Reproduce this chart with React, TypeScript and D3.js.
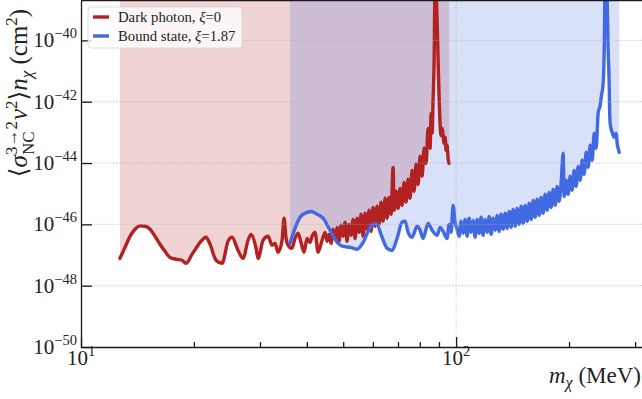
import { useEffect, useRef } from 'react';
import * as d3 from 'd3';

// values (mass in MeV, cross-section as log10 of cm^2)
const redMass = [
  12.7, 13.1, 13.51, 13.93, 14.37, 14.81, 15.28, 15.75, 16.24, 16.75, 17.27, 18.03, 18.59, 19.05,
  19.77, 20.26, 20.89, 21.54, 22.08, 22.91, 23.77, 24.66, 25.27, 26.22, 27.04, 27.88, 28.4, 29.29,
  29.65, 30.57, 31.53, 32.31, 32.91, 33.52, 34.36, 34.78, 35.21, 35.65, 36.53, 37.2, 37.9, 38.6,
  39.32, 40.05, 40.79, 41.3, 42.07, 42.85, 43.92,
  44.74, 45.29, 45.85, 46.42, 46.99, 47.56, 48.15, 48.75, 49.35, 49.97, 50.58, 51.21, 51.84, 52.48,
  53.13, 53.79, 54.45, 55.12, 55.81, 56.49, 57.19, 57.9, 58.61, 59.33, 60.07, 60.81, 61.55, 62.32,
  63.1, 63.88, 64.69, 65.46, 66.27, 67.08, 67.92, 68.34, 69.18, 70.02, 70.9, 71.78, 72.66, 73.56,
  74.47, 75.39, 76.32, 77.27, 78.22, 79.19, 80.17, 81.16, 82.16, 83.18, 84.2, 85.24, 85.79, 86.3,
  86.85, 87.38, 87.9, 88.99, 89.54, 90.1, 90.65, 91.2, 91.76, 92.9, 93.47, 94.03, 94.62, 95.2, 95.79,
];
const redSigmaExp = [
  -47.11, -46.75, -46.39, -46.16, -46.05, -46.06, -46.16, -46.39, -46.65, -46.88, -47.08, -47.14, -47.17, -47.27,
  -46.98, -46.78, -46.55, -46.42, -46.65, -47.17, -47.27, -46.55, -46.42, -46.85, -47.11, -46.52, -46.33, -46.78,
  -47.11, -46.52, -46.39, -46.68, -46.62, -46.91, -46.52, -45.8, -46.46, -46.68, -46.78, -46.46, -46.29, -46.59,
  -46.91, -46.46, -46.59, -46.39, -46.26, -46.91, -46.52,
  -46.26, -46.55, -46.33, -46.62, -46.16, -46.49, -46.1, -46.55, -46.03, -46.39, -45.93, -46.55, -46.0, -46.36,
  -45.84, -46.46, -45.8, -46.26, -45.67, -46.39, -45.64, -46.16, -45.54, -46.23, -45.45, -46.06, -45.41, -46.0,
  -45.28, -45.9, -45.15, -45.8, -45.12, -45.67, -44.14, -45.54, -44.92, -45.48, -44.83, -45.38, -44.63, -45.28,
  -44.53, -45.15, -44.24, -44.92, -44.04, -44.7, -43.78, -44.43, -43.52, -44.01, -42.87, -43.52, -42.38, -43.03,
  -41.86, -40.65, -37.96, -39.35, -40.65, -41.86, -42.77, -43.1, -42.87, -43.36, -43.16, -43.59, -43.42, -43.85, -44.01,
];

const blueMass = [
  36.08, 37.2, 38.37, 39.56, 41.05, 42.59, 44.19, 46.13, 48.45, 49.97, 52.16, 54.45, 56.49, 58.97,
  61.18, 63.48, 65.46, 67.5, 69.59, 71.78, 73.11, 74.47, 76.32, 78.7, 80.17, 81.66, 84.2, 86.3,
  88.99, 90.65, 92.33,
  94.62, 95.79, 96.98, 98.17, 99.39, 100.6, 101.9, 103.1, 104.4, 105.7, 107.0, 108.3, 109.7, 111.0,
  112.4, 113.8, 115.2, 116.6, 118.0, 119.5, 121.0, 122.5, 124.0, 125.5, 127.1, 128.6, 130.2, 131.8,
  133.5, 135.1, 136.8, 138.5, 140.2, 141.9, 143.7, 145.4, 147.2, 149.1, 150.9, 152.8, 154.7, 156.6,
  158.5, 160.5, 162.4, 164.4, 166.5, 168.5, 170.6, 172.7, 174.9, 177.0, 179.2, 181.4, 183.7, 185.9,
  188.2, 190.5, 192.9, 194.1, 196.5, 198.9, 201.4, 203.9, 206.4, 208.9, 211.5, 214.1, 216.8, 219.4,
  222.2, 224.9, 227.7, 230.5, 233.4, 236.2, 239.2, 242.1, 243.6, 246.6, 248.2, 249.7, 252.7, 254.3,
  255.9, 256.6, 257.4, 260.6, 263.8, 267.1, 268.7, 270.4, 272.1,
];
const blueSigmaExp = [
  -46.62, -46.13, -45.77, -45.64, -45.58, -45.67, -45.8, -46.19, -46.62, -46.72, -46.75, -46.81, -46.59, -46.1,
  -45.97, -46.42, -46.78, -46.85, -46.46, -45.93, -45.9, -46.26, -46.42, -46.06, -46.19, -46.46, -45.97, -46.19,
  -46.36, -46.1, -46.23,
  -46.46, -46.0, -46.26, -45.38, -45.93, -46.16, -46.39, -45.9, -46.29, -45.84, -46.39, -45.8, -46.26, -45.87,
  -46.42, -45.84, -46.29, -45.77, -46.36, -45.84, -46.26, -45.74, -46.33, -45.8, -46.19, -45.71, -46.23, -45.67,
  -46.16, -45.64, -46.13, -45.58, -46.1, -45.51, -46.06, -45.48, -46.0, -45.41, -45.97, -45.38, -45.9, -45.31,
  -45.84, -45.22, -45.77, -45.18, -45.71, -45.12, -45.64, -45.02, -45.54, -44.96, -45.45, -44.86, -45.38, -44.76,
  -45.25, -44.66, -43.68, -45.09, -44.56, -45.02, -44.43, -44.89, -44.24, -44.76, -44.11, -44.56, -43.91, -44.37,
  -43.65, -44.14, -43.42, -43.91, -43.03, -43.52, -42.35, -42.12, -41.86, -41.4, -40.33, -37.96, -38.7, -40.33,
  -41.4, -42.28, -42.71, -43.0, -43.16, -43.03, -43.36, -43.52, -43.65,
];

const yTickExps = [-40, -42, -44, -46, -48, -50];
const xMajorTicks = [10, 100];
const xMinorTicks = [20, 30, 40, 50, 60, 70, 80, 90, 200, 300];
const legendNames = ['Dark photon, ', 'Bound state, '];
const legendXi = ['0', '1.87'];

const RED = '#b22222';
const BLUE = '#4169e1';
const SERIF = '"Liberation Serif", "DejaVu Serif", serif';

export default function App() {
  const svgRef = useRef<SVGSVGElement>(null);

  useEffect(() => {
    if (!svgRef.current) return;
    const svg = d3.select(svgRef.current);
    svg.selectAll('*').remove();

    const left = 81;
    const right = 642;
    const top = 0.5;
    const bottom = 347;

    const x = d3.scaleLog().domain([10, 313]).range([left, right]);
    const y = d3.scaleLog().domain([1e-50, 2e-39]).range([bottom, top]);

    svg
      .append('defs')
      .append('clipPath')
      .attr('id', 'plot-clip')
      .append('rect')
      .attr('x', left)
      .attr('y', top)
      .attr('width', right - left)
      .attr('height', bottom - top);

    const red = redMass.map((m, i) => ({ m, s: Math.pow(10, redSigmaExp[i]) }));
    const blue = blueMass.map((m, i) => ({ m, s: Math.pow(10, blueSigmaExp[i]) }));

    const plot = svg.append('g').attr('clip-path', 'url(#plot-clip)');

    const area = d3
      .area<{ m: number; s: number }>()
      .curve(d3.curveMonotoneX)
      .x((d) => x(d.m))
      .y0(top - 5)
      .y1((d) => y(d.s));

    plot.append('path').datum(red).attr('d', area).attr('fill', RED).attr('fill-opacity', 0.2);
    plot.append('path').datum(blue).attr('d', area).attr('fill', BLUE).attr('fill-opacity', 0.2);

    // dotted grid at the major ticks
    const grid = svg.append('g').attr('stroke', '#b0b0b0').attr('stroke-width', 0.8).attr('stroke-dasharray', '1.2,2');
    yTickExps
      .filter((e) => e !== -50)
      .forEach((e) => {
        grid.append('line').attr('x1', left).attr('x2', right).attr('y1', y(Math.pow(10, e))).attr('y2', y(Math.pow(10, e)));
      });
    grid.append('line').attr('x1', x(100)).attr('x2', x(100)).attr('y1', top).attr('y2', bottom);

    const line = d3
      .line<{ m: number; s: number }>()
      .curve(d3.curveMonotoneX)
      .x((d) => x(d.m))
      .y((d) => y(d.s));

    [
      { data: red, color: RED },
      { data: blue, color: BLUE },
    ].forEach((c) => {
      plot
        .append('path')
        .datum(c.data)
        .attr('d', line)
        .attr('fill', 'none')
        .attr('stroke', c.color)
        .attr('stroke-width', 3.4)
        .attr('stroke-linejoin', 'round')
        .attr('stroke-linecap', 'round');
    });

    // axes, ticks pointing inward
    const yAxis = svg
      .append('g')
      .attr('transform', `translate(${left},0)`)
      .call(
        d3
          .axisLeft(y)
          .tickValues(yTickExps.map((e) => Math.pow(10, e)))
          .tickSize(-11)
          .tickSizeOuter(0)
          .tickFormat(() => '')
      );
    const xAxis = svg
      .append('g')
      .attr('transform', `translate(0,${bottom})`)
      .call(d3.axisBottom(x).tickValues(xMajorTicks).tickSize(-10).tickSizeOuter(0).tickFormat(() => ''));
    const xMinor = svg
      .append('g')
      .attr('transform', `translate(0,${bottom})`)
      .call(d3.axisBottom(x).tickValues(xMinorTicks).tickSize(-5).tickSizeOuter(0).tickFormat(() => ''));
    xMinor.select('.domain').remove();
    [yAxis, xAxis, xMinor].forEach((g) => {
      g.selectAll('path, line').attr('stroke', '#1a1a1a').attr('stroke-width', 1.3);
    });
    svg.append('line').attr('x1', left).attr('x2', right).attr('y1', top).attr('y2', top).attr('stroke', '#1a1a1a').attr('stroke-width', 1.3);

    // tick labels
    yTickExps.forEach((e) => {
      const t = svg
        .append('text')
        .attr('x', left - 4)
        .attr('y', y(Math.pow(10, e)) + 7)
        .attr('text-anchor', 'end')
        .attr('font-family', SERIF)
        .attr('font-size', 21)
        .attr('fill', '#222');
      t.append('tspan').text('10');
      t.append('tspan').attr('font-size', 14.5).attr('dy', -9).text(`−${Math.abs(e)}`);
    });
    xMajorTicks.forEach((v) => {
      const t = svg
        .append('text')
        .attr('x', x(v))
        .attr('y', bottom + 18)
        .attr('text-anchor', 'middle')
        .attr('font-family', SERIF)
        .attr('font-size', 21)
        .attr('fill', '#222');
      t.append('tspan').text('10');
      t.append('tspan').attr('font-size', 14.5).attr('dy', -9).text(String(Math.round(Math.log10(v))));
    });

    // x label
    const xl = svg
      .append('text')
      .attr('x', 641)
      .attr('y', 383)
      .attr('text-anchor', 'end')
      .attr('font-family', SERIF)
      .attr('font-size', 23)
      .attr('fill', '#222');
    xl.append('tspan').attr('font-style', 'italic').text('m');
    xl.append('tspan').attr('font-style', 'italic').attr('font-size', 16).attr('dy', 5).text('χ');
    xl.append('tspan').attr('dy', -5).text(' (MeV)');

    // y label
    const yl = svg
      .append('text')
      .attr('transform', 'translate(27,93) rotate(-90)')
      .attr('text-anchor', 'middle')
      .attr('font-family', SERIF)
      .attr('font-size', 25)
      .attr('fill', '#222');
    yl.append('tspan').text('⟨');
    yl.append('tspan').attr('font-style', 'italic').text('σ');
    const sup = yl.append('tspan').attr('font-size', 17).attr('dy', -10).text('3→2');
    const supW = (sup.node() as SVGTextContentElement).getComputedTextLength();
    const sub = yl.append('tspan').attr('font-size', 17).attr('dx', -supW).attr('dy', 17).text('NC');
    const subW = (sub.node() as SVGTextContentElement).getComputedTextLength();
    yl.append('tspan').attr('dx', Math.max(0, supW - subW) + 1).attr('dy', -7).attr('font-style', 'italic').text('v');
    yl.append('tspan').attr('font-size', 17).attr('dy', -10).text('2');
    yl.append('tspan').attr('dy', 10).text('⟩');
    yl.append('tspan').attr('font-style', 'italic').text('n');
    yl.append('tspan').attr('font-style', 'italic').attr('font-size', 17).attr('dy', 5).text('χ');
    yl.append('tspan').attr('dy', -5).text(' (cm');
    yl.append('tspan').attr('font-size', 17).attr('dy', -10).text('2');
    yl.append('tspan').attr('dy', 10).text(')');

    // legend
    const lg = svg.append('g');
    lg.append('rect')
      .attr('x', 88)
      .attr('y', 7)
      .attr('width', 154)
      .attr('height', 41)
      .attr('rx', 3)
      .attr('fill', 'white')
      .attr('fill-opacity', 0.8)
      .attr('stroke', '#d4d4d4')
      .attr('stroke-width', 0.8);
    [RED, BLUE].forEach((c, i) => {
      const ly = 17 + i * 19;
      lg.append('line').attr('x1', 93).attr('x2', 109).attr('y1', ly).attr('y2', ly).attr('stroke', c).attr('stroke-width', 3.4);
      const t = lg
        .append('text')
        .attr('x', 118)
        .attr('y', ly + 4.8)
        .attr('font-family', SERIF)
        .attr('font-size', 14.7)
        .attr('fill', '#222');
      t.append('tspan').text(legendNames[i]);
      t.append('tspan').attr('font-style', 'italic').text('ξ');
      t.append('tspan').text(`=${legendXi[i]}`);
    });
  }, []);

  return (
    <svg
      ref={svgRef}
      width={642}
      height={399}
      style={{ position: 'absolute', left: 0, top: 0, background: 'white' }}
    ></svg>
  );
}
